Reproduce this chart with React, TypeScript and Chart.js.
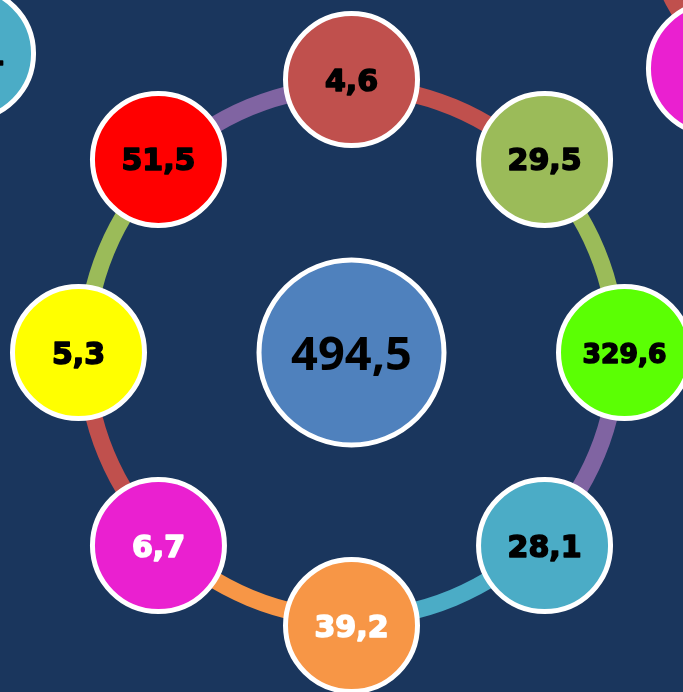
import React, { useEffect, useRef } from "react";
import { Chart, registerables } from "chart.js";

Chart.register(...registerables);

// ---- data ----
const nodeValues = [4.6, 29.5, 329.6, 28.1, 39.2, 6.7, 5.3, 51.5];
const nodeColors = ["#c0504d", "#9bbb59", "#5bff04", "#4bacc6", "#f79646", "#ea20d0", "#ffff00", "#ff0000"];
const nodeTextColors = ["#000000", "#000000", "#000000", "#000000", "#ffffff", "#ffffff", "#000000", "#000000"];
const totalValues = [494.5];
const totalColors = ["#4f81bd"];
const totalTextColors = ["#000000"];
const linkWeights = [1, 1, 1, 1, 1, 1, 1, 1];
const linkColors = ["#c0504d", "#9bbb59", "#8064a2", "#4bacc6", "#f79646", "#c0504d", "#9bbb59", "#8064a2"];

// ---- layout ----
const W = 683;
const H = 692;
const CX = 351.5;
const CY = 352.5;
const RING_R = 273;
const LINK_OUTER = 274;
const LINK_INNER = 257;
const BG = "#1a365d";
const copies = [
  { dx: -577, dy: -492.5 },
  { dx: 556, dy: -477.5 },
  { dx: 0, dy: 0 },
];

const fmt = (v: number) => v.toFixed(1).replace(".", ",");

const labelPlugin = {
  id: "nodeLabels",
  afterDatasetsDraw(chart: any) {
    const ctx = chart.ctx;
    chart.data.datasets.forEach((ds: any, di: number) => {
      const meta = chart.getDatasetMeta(di);
      meta.data.forEach((el: any, i: number) => {
        const text = ds.texts[i];
        let size = ds.fontSize;
        ctx.save();
        ctx.font = `bold ${size}px ${ds.fontFamily}`;
        const w = ctx.measureText(text).width;
        if (w > ds.maxTextWidth) {
          size = (size * ds.maxTextWidth) / w;
          ctx.font = `bold ${size}px ${ds.fontFamily}`;
        }
        const asc = ctx.measureText("0").actualBoundingBoxAscent;
        ctx.textAlign = "center";
        ctx.textBaseline = "alphabetic";
        ctx.fillStyle = ds.textColors[i];
        ctx.strokeStyle = ds.textColors[i];
        ctx.lineWidth = ds.textStroke;
        ctx.lineJoin = "round";
        if (ds.textStroke > 0) ctx.strokeText(text, el.x, el.y + asc / 2);
        ctx.fillText(text, el.x, el.y + asc / 2);
        ctx.restore();
      });
    });
  },
};

function Diagram({ dx, dy }: { dx: number; dy: number }) {
  const ringRef = useRef<HTMLCanvasElement | null>(null);
  const nodeRef = useRef<HTMLCanvasElement | null>(null);

  useEffect(() => {
    const ring = new Chart(ringRef.current as HTMLCanvasElement, {
      type: "doughnut",
      data: {
        labels: linkColors.map((_, i) => `${i}`),
        datasets: [
          {
            data: linkWeights,
            backgroundColor: linkColors,
            borderWidth: 0,
          },
        ],
      },
      options: {
        responsive: false,
        animation: false,
        radius: LINK_OUTER,
        cutout: `${(LINK_INNER / LINK_OUTER) * 100}%`,
        rotation: 0,
        layout: { padding: { left: 2 * CX - W, top: 2 * CY - H, right: 0, bottom: 0 } },
        plugins: { legend: { display: false }, tooltip: { enabled: false } },
        events: [],
      } as any,
    });

    const step = (2 * Math.PI) / nodeValues.length;
    const nodes = new Chart(nodeRef.current as HTMLCanvasElement, {
      type: "bubble",
      data: {
        datasets: [
          {
            data: nodeValues.map((_, i) => ({
              x: RING_R * Math.sin(i * step),
              y: RING_R * Math.cos(i * step),
              r: 66,
            })),
            backgroundColor: nodeColors,
            borderColor: "#ffffff",
            borderWidth: 5,
            clip: false,
            texts: nodeValues.map(fmt),
            textColors: nodeTextColors,
            fontSize: 30,
            fontFamily: '"DejaVu Sans"',
            maxTextWidth: 84,
            textStroke: 1.6,
          } as any,
          {
            data: totalValues.map(() => ({ x: 0, y: 0, r: 92.5 })),
            backgroundColor: totalColors,
            borderColor: "#ffffff",
            borderWidth: 5,
            clip: false,
            texts: totalValues.map(fmt),
            textColors: totalTextColors,
            fontSize: 47,
            fontFamily: '"Noto Sans"',
            maxTextWidth: 150,
            textStroke: 0,
          } as any,
        ],
      },
      options: {
        responsive: false,
        animation: false,
        layout: { padding: 0, autoPadding: false },
        scales: {
          x: { type: "linear", min: -CX, max: W - CX, display: false },
          y: { type: "linear", min: -(H - CY), max: CY, display: false },
        },
        plugins: { legend: { display: false }, tooltip: { enabled: false } },
        events: [],
      } as any,
      plugins: [labelPlugin],
    });

    return () => {
      ring.destroy();
      nodes.destroy();
    };
  }, []);

  return (
    <div style={{ position: "absolute", left: dx, top: dy, width: W, height: H }}>
      <canvas ref={ringRef} width={W} height={H} style={{ position: "absolute", left: 0, top: 0, width: W, height: H }} />
      <canvas ref={nodeRef} width={W} height={H} style={{ position: "absolute", left: 0, top: 0, width: W, height: H }} />
    </div>
  );
}

export default function App() {
  return (
    <div
      style={{
        position: "fixed",
        left: 0,
        top: 0,
        width: W,
        height: H,
        overflow: "hidden",
        background: BG,
      }}
    >
      {copies.map((c, i) => (
        <Diagram key={i} dx={c.dx} dy={c.dy} />
      ))}
    </div>
  );
}
